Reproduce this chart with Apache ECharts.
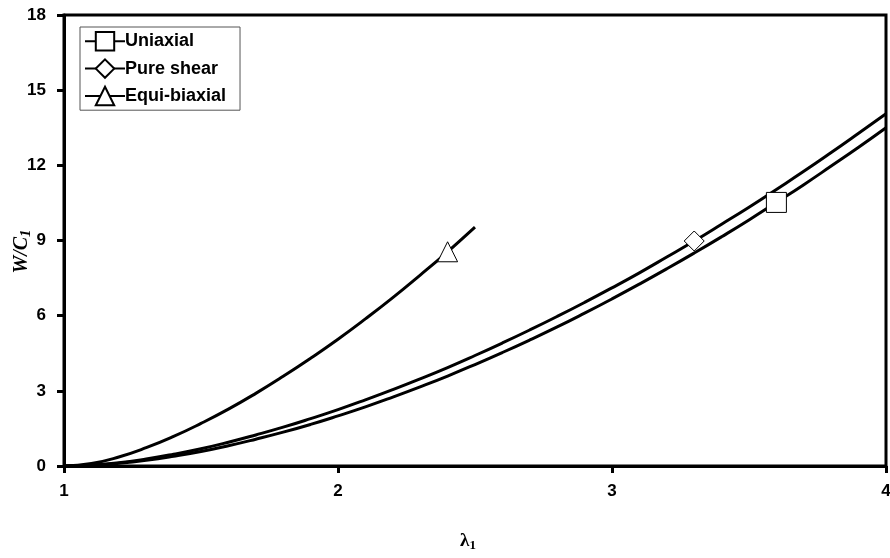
<!DOCTYPE html>
<html>
<head>
<meta charset="utf-8">
<script src="https://cdn.jsdelivr.net/npm/echarts@6/dist/echarts.min.js"></script>
<style>
  html, body { margin: 0; padding: 0; background: #fff; }
  #chart { width: 890px; height: 558px; }
</style>
</head>
<body>
<div id="chart"></div>
<script>
// stretch λ1 sampled along the curves
const lambdaFull = [1.0, 1.1, 1.2, 1.3, 1.4, 1.5, 1.6, 1.7, 1.8, 1.9, 2.0, 2.1, 2.2, 2.3, 2.4, 2.5,
    2.6, 2.7, 2.8, 2.9, 3.0, 3.1, 3.2, 3.3, 3.4, 3.5, 3.6, 3.7, 3.8, 3.9, 4.0];
const lambdaBiax = [1.0, 1.1, 1.2, 1.3, 1.4, 1.5, 1.6, 1.7, 1.8, 1.9, 2.0, 2.1, 2.2, 2.3, 2.4, 2.5];

// W/C1
const uniaxial = [0, 0.03, 0.11, 0.23, 0.39, 0.58, 0.81, 1.07, 1.35, 1.66, 2.0, 2.36, 2.75, 3.16, 3.59, 4.05,
    4.53, 5.03, 5.55, 6.10, 6.67, 7.26, 7.87, 8.50, 9.15, 9.82, 10.52, 11.23, 11.97, 12.72, 13.5];
const pureShear = [0, 0.04, 0.13, 0.28, 0.47, 0.69, 0.95, 1.24, 1.55, 1.89, 2.25, 2.64, 3.05, 3.48, 3.93, 4.41,
    4.91, 5.43, 5.97, 6.53, 7.11, 7.71, 8.34, 8.98, 9.65, 10.33, 11.04, 11.76, 12.51, 13.28, 14.06];
const equiBiaxial = [0, 0.10, 0.36, 0.73, 1.18, 1.70, 2.27, 2.90, 3.58, 4.30, 5.06, 5.87, 6.72, 7.62, 8.55, 9.53];

// where each curve carries its marker
const markerLambda = { uniaxial: 3.6, pureShear: 3.3, equiBiaxial: 2.4 };

const yTicks = [0, 3, 6, 9, 12, 15, 18];

function pairs(xs, ys) {
    return xs.map((x, i) => [x, ys[i]]);
}

function curve(name, xs, ys, symbol, size, markAt) {
    return {
        name: name,
        type: "line",
        data: pairs(xs, ys),
        smooth: true,
        symbol: symbol,
        showSymbol: true,
        showAllSymbol: true,
        symbolSize: (val) => (Math.abs(val[0] - markAt) < 1e-6 ? size : 0),
        lineStyle: { color: "#000", width: 3 },
        itemStyle: { color: "#fff", borderColor: "#000", borderWidth: 1 },
        z: 3,
    };
}

const serif = "Liberation Serif";
const chart = echarts.init(document.getElementById("chart"));

chart.setOption({
    animation: false,
    textStyle: { fontFamily: "Arial" },
    grid: {
        left: 64,
        right: 4,
        top: 15,
        bottom: 92,
        outerBoundsMode: "none",
        containLabel: false,
        show: true,
        borderColor: "#000",
        borderWidth: 3,
    },
    legend: {
        left: 80,
        top: 27,
        orient: "vertical",
        padding: [4, 14, 4, 4],
        itemGap: 7,
        itemWidth: 40,
        itemHeight: 23,
        borderColor: "#555",
        borderWidth: 1,
        textStyle: { color: "#000", fontFamily: "Arial", fontSize: 18, fontWeight: "bold", padding: [0, 0, 0, -5] },
        data: ["Uniaxial", "Pure shear", "Equi-biaxial"],
    },
    xAxis: {
        type: "value",
        min: 1,
        max: 4,
        interval: 1,
        name: "{a|λ}{b|1}",
        nameLocation: "middle",
        nameGap: 64,
        nameMoveOverlap: false,
        nameTextStyle: {
            padding: [0, 14, 0, 0],
            rich: {
                a: { fontFamily: serif, fontSize: 19, fontWeight: "bold", color: "#000" },
                b: { fontFamily: serif, fontSize: 13, fontWeight: "bold", color: "#000", padding: [9, 0, 0, 0] },
            },
        },
        axisLine: { onZero: false, lineStyle: { color: "#000", width: 3 } },
        axisTick: { show: true, length: 7, lineStyle: { color: "#000", width: 3 } },
        axisLabel: { color: "#000", fontFamily: "Arial", fontSize: 17, fontWeight: "bold", margin: 17 },
        splitLine: { show: false },
    },
    yAxis: {
        type: "value",
        min: yTicks[0],
        max: yTicks[yTicks.length - 1],
        interval: 3,
        name: "{a|W/C}{b|1}",
        nameLocation: "middle",
        nameGap: 30,
        nameMoveOverlap: false,
        nameTextStyle: {
            padding: [0, 22, 0, 0],
            rich: {
                a: { fontFamily: serif, fontSize: 20, fontStyle: "italic", fontWeight: "bold", color: "#000" },
                b: { fontFamily: serif, fontSize: 15, fontStyle: "italic", fontWeight: "bold", color: "#000", padding: [9, 0, 0, 0] },
            },
        },
        axisLine: { lineStyle: { color: "#000", width: 3 } },
        axisTick: { show: true, length: 7, lineStyle: { color: "#000", width: 3 } },
        axisLabel: { color: "#000", fontFamily: "Arial", fontSize: 17, fontWeight: "bold", margin: 18 },
        splitLine: { show: false },
    },
    series: [
        curve("Uniaxial", lambdaFull, uniaxial, "rect", 20, markerLambda.uniaxial),
        curve("Pure shear", lambdaFull, pureShear, "diamond", 20, markerLambda.pureShear),
        curve("Equi-biaxial", lambdaBiax, equiBiaxial, "triangle", 20, markerLambda.equiBiaxial),
    ],
});
</script>
</body>
</html>
